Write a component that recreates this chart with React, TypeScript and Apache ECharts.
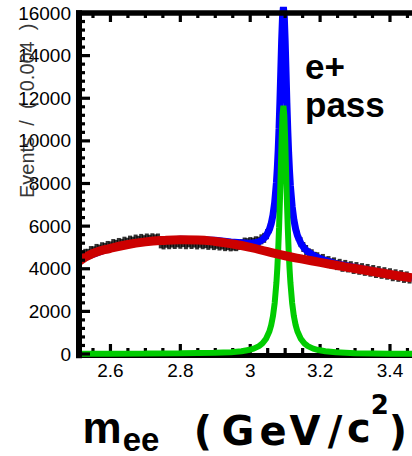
import React, { useEffect, useRef } from "react";
import * as echarts from "echarts";

// ---- data ----
const binStart = 2.512;
const binWidth = 0.008;
const dataVals = [
  4430, 4580, 4700, 4700, 4830, 4820, 4930, 4900, 5010, 4980, 5070, 5050, 5160, 5120, 5210, 5170, 5270, 5220, 5320, 5270,
  5370, 5310, 5400, 5340, 5420, 5360, 5430, 5380, 5420,
  5190, 5140, 5220, 5150, 5230, 5160, 5240, 5170, 5250, 5150, 5240, 5160, 5230, 5140, 5220, 5150, 5200, 5120, 5190, 5110,
  5170, 5090, 5140, 5060, 5110, 5050, 5090, 5060, 5120,
  5150, 5230, 5200, 5250, 5220, 5290, 5270, 5380, 5450, 5620, 5900, 6450, 7400, 9550, 13600,
  16200, 12300, 8700, 6900, 6000, 5550, 5250, 5020, 4880, 4720, 4680, 4560, 4540, 4420, 4460, 4330, 4360, 4250, 4300, 4170,
  4230, 4090, 4180, 4060, 4120, 3990, 4080, 3950, 4030, 3900, 3990, 3860, 3940, 3800, 3890, 3760, 3840, 3720, 3790, 3650,
  3740, 3620, 3700, 3570, 3640, 3540,
];

const bgMass = [2.51, 2.55, 2.6, 2.65, 2.7, 2.75, 2.8, 2.85, 2.9, 2.95, 3.0, 3.05, 3.1, 3.15, 3.2, 3.25, 3.3, 3.35, 3.4, 3.463];
const bgVals = [4350, 4720, 4960, 5140, 5260, 5330, 5360, 5350, 5280, 5160, 5000, 4800, 4610, 4450, 4300, 4150, 4010, 3870, 3730, 3570];

const peakMass = [
  2.51, 2.6, 2.7, 2.8, 2.9, 2.945, 2.975, 2.995, 3.01, 3.025, 3.035, 3.045, 3.055, 3.06, 3.065, 3.07, 3.075, 3.0775, 3.08,
  3.0825, 3.085, 3.0875, 3.09, 3.0925, 3.095, 3.0975, 3.1, 3.1025, 3.105, 3.1075, 3.11, 3.1125, 3.115, 3.12, 3.125, 3.13,
  3.135, 3.145, 3.155, 3.165, 3.18, 3.195, 3.215, 3.245, 3.3, 3.4, 3.463,
];
const sigVals = [
  10, 14, 20, 30, 55, 83, 129, 185, 254, 371, 500, 706, 1067, 1355, 1770, 2390, 3350, 4020, 4865,
  5915, 7190, 8640, 10085, 11215, 11650, 11215, 10085, 8640, 7190, 5915, 4865, 4020, 3350, 2390, 1770, 1355,
  1067, 706, 500, 371, 254, 185, 129, 83, 35, 15, 10,
];
const totVals = [
  4430, 4974, 5280, 5390, 5335, 5253, 5219, 5195, 5204, 5266, 5360, 5526, 5847, 6115, 6510, 7110, 8050, 8710, 9545,
  10585, 11850, 13290, 14725, 15845, 16275, 15830, 14690, 13235, 11775, 10490, 9430, 8575, 7895, 6925, 6290, 5865,
  5567, 5186, 4955, 4796, 4634, 4515, 4389, 4243, 4065, 3755, 3580,
];

const xMajor = [2.6, 2.8, 3.0, 3.2, 3.4];
const xMinor = [2.55, 2.65, 2.7, 2.75, 2.85, 2.9, 2.95, 3.05, 3.1, 3.15, 3.25, 3.3, 3.35, 3.45];
const yMajor = [0, 2000, 4000, 6000, 8000, 10000, 12000, 14000, 16000];
const yMinor = [
  400, 800, 1200, 1600, 2400, 2800, 3200, 3600, 4400, 4800, 5200, 5600, 6400, 6800, 7200, 7600, 8400, 8800, 9200, 9600,
  10400, 10800, 11200, 11600, 12400, 12800, 13200, 13600, 14400, 14800, 15200, 15600,
];

const X_MIN = 2.51;
const X_MAX = 3.463;
const Y_MAX = 16000;

const zip = (xs: number[], ys: number[]) => xs.map((x, i) => [x, ys[i]]);

export default function App() {
  const ref = useRef<HTMLDivElement>(null);
  useEffect(() => {
    if (!ref.current) return;
    const chart = echarts.init(ref.current, undefined, { renderer: "svg" });
    const labelFont = { fontFamily: "Liberation Sans", fontSize: 19, color: "#000" };
    const glyph = (t: string, x: number, y: number, size: number, family = "DejaVu Sans") => ({
      type: "text",
      x,
      y,
      z: 60,
      style: {
        text: t,
        fontFamily: family,
        fontWeight: "bold",
        fontSize: size,
        fill: "#000",
        align: "center",
        verticalAlign: "middle",
      },
    });
    const texts: any[] = [
      {
        type: "text",
        x: 27,
        y: 198,
        z: 60,
        rotation: Math.PI / 2,
        style: {
          text: "Events  /  (  0.004  )",
          fontFamily: "Liberation Sans",
          fontSize: 20,
          fill: "#383838",
          align: "left",
          verticalAlign: "middle",
        },
      },
      { type: "text", x: 305, y: 66, z: 60, style: { text: "e+", fontFamily: "Liberation Sans", fontWeight: "bold", fontSize: 35, fill: "#000", align: "left", verticalAlign: "middle" } },
      { type: "text", x: 305, y: 104, z: 60, style: { text: "pass", fontFamily: "Liberation Sans", fontWeight: "bold", fontSize: 35, fill: "#000", align: "left", verticalAlign: "middle" } },
      glyph("m", 102, 427, 44, "Liberation Sans"),
      glyph("ee", 141, 439, 33, "Liberation Sans"),
      glyph("(", 203, 431, 40),
      glyph("G", 238, 431, 40),
      glyph("e", 273, 431, 40),
      glyph("V", 305, 431, 40),
      glyph("/", 335, 431, 40),
      {
        type: "text",
        x: 347,
        y: 392,
        z: 60,
        style: {
          text: "{c|c}{s|2}",
          fontFamily: "DejaVu Sans",
          fontWeight: "bold",
          fill: "#000",
          align: "left",
          verticalAlign: "top",
          rich: {
            c: { fontFamily: "DejaVu Sans", fontWeight: "bold", fontSize: 40, verticalAlign: "bottom", fill: "#000" },
            s: { fontFamily: "DejaVu Sans", fontWeight: "bold", fontSize: 26, verticalAlign: "top", padding: [0, 0, 30, 0], fill: "#000" },
          },
        },
      },
      glyph(")", 398, 431, 40),
    ];
    chart.setOption({
      animation: false,
      grid: { left: 79, right: 0, top: 13, bottom: 102, containLabel: false },
      xAxis: {
        type: "value",
        min: X_MIN,
        max: X_MAX,
        position: "bottom",
        splitLine: { show: false },
        axisLine: { show: false },
        axisTick: { show: false },
        axisLabel: { show: true, margin: 7, customValues: xMajor, ...labelFont },
      },
      yAxis: {
        type: "value",
        min: 0,
        max: Y_MAX,
        interval: 2000,
        splitLine: { show: false },
        axisLine: { show: false },
        axisTick: { show: false },
        axisLabel: { show: true, margin: 8, formatter: (v: number) => String(v), ...labelFont },
      },
      series: [
        {
          type: "scatter",
          data: dataVals.map((v, i) => [binStart + i * binWidth, v]),
          symbol: "rect",
          symbolSize: [4, 10],
          itemStyle: { color: "#000" },
          z: 1,
          silent: true,
        },
        {
          type: "line",
          data: zip(peakMass, totVals),
          showSymbol: false,
          clip: false,
          lineStyle: { color: "#0000ff", width: 7 },
          z: 2,
        },
        {
          type: "line",
          data: zip(peakMass, sigVals),
          showSymbol: false,
          clip: false,
          lineStyle: { color: "#00cc00", width: 6 },
          z: 3,
        },
        {
          type: "line",
          data: zip(bgMass, bgVals),
          smooth: true,
          showSymbol: false,
          lineStyle: { color: "#cc0000", width: 9 },
          z: 4,
        },
      ],
    });

    // frame and ticks, placed through the chart's own axis scales
    const px = (x: number, y: number) => chart.convertToPixel({ gridIndex: 0 }, [x, y]) as number[];
    const [xL, yBot] = px(X_MIN, 0);
    const [xR, yTop] = px(X_MAX, Y_MAX);
    const rect = (x: number, y: number, w: number, h: number, z: number) => ({
      type: "rect",
      z,
      silent: true,
      shape: { x, y, width: w, height: h },
      style: { fill: "#000" },
    });
    const frame: any[] = [];
    // bottom axis (under the curves) and its ticks
    frame.push(rect(xL - 3, yBot - 1, xR - xL + 10, 5, 0));
    xMajor.forEach((v) => frame.push(rect(px(v, 0)[0] - 1.6, yBot - 10, 3.2, 10, 0)));
    xMinor.forEach((v) => frame.push(rect(px(v, 0)[0] - 1.6, yBot - 6, 3.2, 6, 0)));
    // top and left axes over the curves
    frame.push(rect(xL - 3, yTop - 2.8, xR - xL + 10, 5.5, 50));
    frame.push(rect(xL - 3, yTop - 2.8, 6, yBot - yTop + 7, 50));
    xMajor.forEach((v) => frame.push(rect(px(v, 0)[0] - 1.6, yTop, 3.2, 9, 50)));
    xMinor.forEach((v) => frame.push(rect(px(v, 0)[0] - 1.6, yTop, 3.2, 5, 50)));
    yMajor.forEach((v) => frame.push(rect(xL, px(X_MIN, v)[1] - 1.6, 11, 3.2, 50)));
    yMinor.forEach((v) => frame.push(rect(xL, px(X_MIN, v)[1] - 1.6, 6, 3.2, 50)));

    chart.setOption({ graphic: [...texts, ...frame] });
    return () => chart.dispose();
  }, []);
  return <div ref={ref} style={{ position: "fixed", left: 0, top: 0, width: 412, height: 456, background: "#fff" }} />;
}
